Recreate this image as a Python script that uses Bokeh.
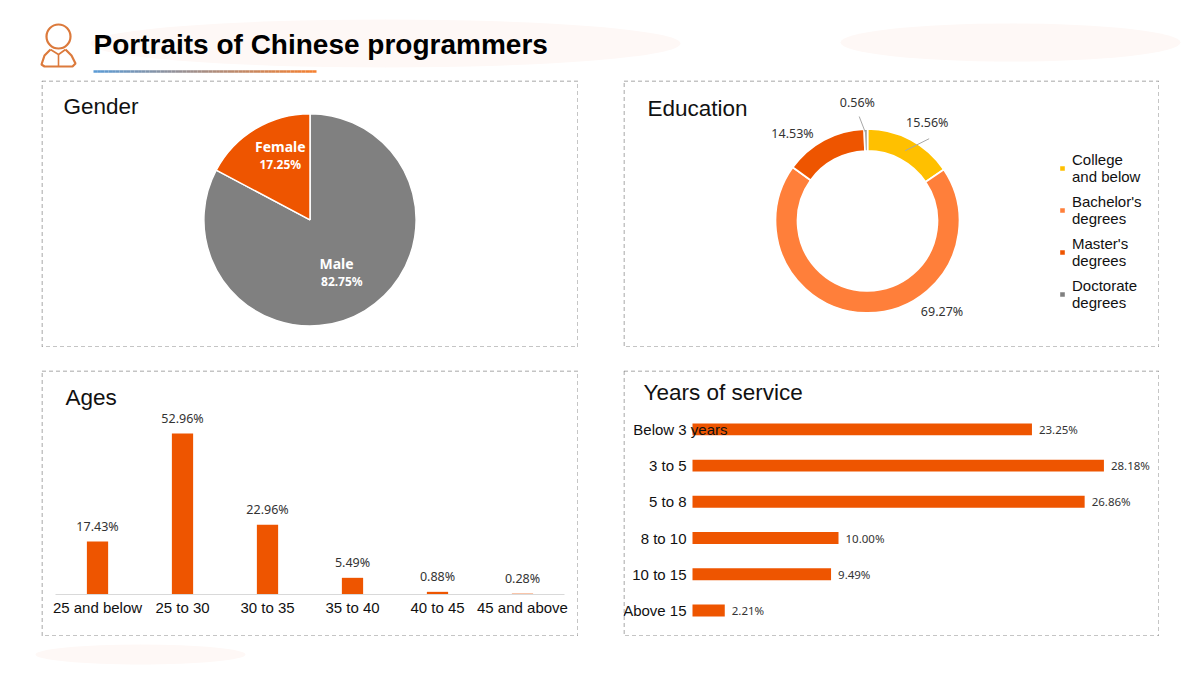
import numpy as np
from bokeh.core.properties import value
from bokeh.embed import file_html
from bokeh.layouts import column, row
from bokeh.models import (BoxAnnotation, CategoricalAxis, ColumnDataSource, FactorRange, FixedTicker, Label, Legend,
                          LegendItem, LinearAxis, Range1d, Spacer)
from bokeh.plotting import figure
from bokeh.resources import INLINE

# ---------- data ----------
gender_labels = ["Male", "Female"]
gender_values = [82.75, 17.25]
education_labels = ["College\nand below", "Bachelor's\ndegrees", "Master's\ndegrees", "Doctorate\ndegrees"]
education_values = [15.56, 69.27, 14.53, 0.56]
age_labels = ["25 and below", "25 to 30", "30 to 35", "35 to 40", "40 to 45", "45 and above"]
age_values = [17.43, 52.96, 22.96, 5.49, 0.88, 0.28]
service_labels = ["Below 3 years", "3 to 5", "5 to 8", "8 to 10", "10 to 15", "Above 15"]
service_values = [23.25, 28.18, 26.86, 10.00, 9.49, 2.21]

ORANGE = "#EE5500"
GREY = "#808080"
SANS = "Liberation Sans"
CJK = "Noto Sans"


def panel(w, h, xr, yr, title, tx, ty):
    p = figure(width=w, height=h, x_range=xr, y_range=yr, output_backend="svg", toolbar_location=None,
               min_border=0, outline_line_color=None, background_fill_color="white",
               x_axis_location=None, y_axis_location=None)
    p.grid.visible = False
    p.add_layout(BoxAnnotation(left=0.5, right=w - 0.5, top=0.5, bottom=h - 0.5,
                               left_units="canvas", right_units="canvas", top_units="canvas", bottom_units="canvas",
                               fill_alpha=0, line_color="#8a8a8a", line_alpha=1, line_dash="4 3", line_width=1,
                               level="overlay", editable=False))
    p.add_layout(Label(x=tx, y=ty, x_units="canvas", y_units="canvas", text=title, text_font=SANS,
                       text_font_size="22.5px", text_color="#111111", text_baseline="middle"))
    return p


def style_axis(a, standoff):
    a.axis_line_color = None
    a.major_tick_line_color = None
    a.minor_tick_line_color = None
    a.major_tick_out = 0
    a.major_tick_in = 0
    a.minor_tick_out = 0
    a.major_label_text_font = SANS
    a.major_label_text_font_size = "15px"
    a.major_label_text_color = "#111111"
    a.major_label_standoff = standoff


def arcs(vals):
    frac = np.cumsum([0] + list(vals)) / sum(vals)
    return np.pi / 2 - 2 * np.pi * frac[:-1], np.pi / 2 - 2 * np.pi * frac[1:]


# ---------- header ----------
head = figure(width=1200, height=80, x_range=Range1d(0, 1200), y_range=Range1d(80, 0), output_backend="svg",
              toolbar_location=None, min_border=0, outline_line_color=None, x_axis_location=None, y_axis_location=None)
head.grid.visible = False
head.ellipse(x=[385, 1010], y=[43, 42], width=[590, 340], height=[48, 38], fill_color="#FEF8F6", line_color=None)
head.circle(x=[58], y=[36], radius=12, fill_color="white", line_color="#DC7A3C", line_width=2.2)
head.line(x=[50, 44, 41, 44, 72, 75, 71, 65], y=[49, 55, 64, 66, 66, 63, 55, 49], line_color="#DC7A3C", line_width=2.2)
head.line(x=[50, 58, 65], y=[49, 54, 49], line_color="#DC7A3C", line_width=1.6)
head.line(x=[58, 58], y=[54, 66], line_color="#DC7A3C", line_width=1.6)
head.text(x=[93], y=[44], text=["Portraits of Chinese programmers"], text_font=value(SANS),
          text_font_style="bold", text_font_size="28px", text_color="black", text_baseline="middle")
n = 60
xs = np.linspace(93, 316, n + 1)
c0, c1 = np.array([91, 155, 213]), np.array([245, 128, 48])
cols = ["#%02x%02x%02x" % tuple(int(v) for v in c0 + (c1 - c0) * i / (n - 1)) for i in range(n)]
head.segment(x0=xs[:-1], x1=xs[1:], y0=[71] * n, y1=[71] * n, line_color=cols, line_width=2.5)

# ---------- gender ----------
p1 = panel(537, 267, Range1d(-2.53, 2.53), Range1d(-1.2, 1.31), "Gender", 22, 26)
s, e = arcs(gender_values)
p1.wedge(x=0, y=0, radius=1, start_angle=e, end_angle=s, fill_color=[GREY, ORANGE],
         line_color="white", line_width=1.5)
lx = [0.25, -0.28]
ly = [-0.41, 0.69]
p1.text(x=lx, y=ly, text=gender_labels, text_font=value(CJK), text_font_style="bold", text_font_size="14px",
        text_color="white", text_align="center", text_baseline="middle")
p1.text(x=[lx[0] + 0.05, lx[1]], y=[v - 0.165 for v in ly], text=[f"{v:.2f}%" for v in gender_values],
        text_font=value(CJK), text_font_style="bold", text_font_size="12px",
        text_color="white", text_align="center", text_baseline="middle")

# ---------- education ----------
p2 = panel(536, 267, Range1d(-2.652, 3.174), Range1d(-1.37, 1.52), "Education", 24, 28)
edu_colors = ["#FFC000", "#FF7F3A", ORANGE, GREY]
s, e = arcs(education_values)
edu_src = ColumnDataSource(dict(s=e, e=s, c=edu_colors))
edu_r = p2.annular_wedge(x=0, y=0, inner_radius=0.76, outer_radius=1, start_angle="s", end_angle="e",
                         fill_color="c", line_color="white", line_width=1.8, source=edu_src)
p2.segment(x0=[0.67, -0.09], y0=[0.89, 1.13], x1=[0.41, -0.02], y1=[0.76, 0.95], line_color="#a8a8a8", line_width=1)
p2.text(x=[0.65, 0.81, -0.815, -0.11], y=[1.065, -0.98, 0.945, 1.285], text=[f"{v:.2f}%" for v in education_values],
        text_font=value(CJK), text_font_size="12.5px", text_color="#333333", text_align="center", text_baseline="middle")
leg = Legend(items=[LegendItem(label=l, renderers=[edu_r], index=i) for i, l in enumerate(education_labels)],
             location=(435, 36), orientation="vertical", border_line_color=None, background_fill_alpha=0,
             label_text_font=SANS, label_text_font_size="15px", label_text_color="#111111", glyph_width=8, glyph_height=8,
             label_standoff=6, spacing=8, padding=0, margin=0)
p2.add_layout(leg, "center")

# ---------- ages ----------
p3 = panel(537, 266, FactorRange(*age_labels, range_padding=0.159, range_padding_units="absolute"),
           Range1d(-13.81, 73.68), "Ages", 24, 27)
p3.vbar(x=age_labels, top=age_values, width=0.25, fill_color=ORANGE, line_color=None)
p3.text(x=age_labels, y=age_values, text=[f"{v:.2f}%" for v in age_values], y_offset=-15, text_font=value(CJK),
        text_font_size="12.5px", text_color="#333333", text_align="center", text_baseline="middle")
ax = CategoricalAxis(fixed_location=0, bounds=(0, 6))
style_axis(ax, 4)
ax.axis_line_color = "#d9d9d9"
p3.add_layout(ax, "below")

# ---------- service ----------
idx = np.arange(len(service_labels))
p4 = panel(536, 266, Range1d(-69 / 14.6, 467 / 14.6), Range1d(5 + 26 / 36.3, -59 / 36.3), "Years of service", 20, 22)
p4.hbar(y=idx, right=service_values, height=0.33, fill_color=ORANGE, line_color=None)
p4.text(x=service_values, y=idx, text=[f"{v:.2f}%" for v in service_values], x_offset=7, text_font=value(CJK),
        text_font_size="11.5px", text_color="#333333", text_baseline="middle")
yax = LinearAxis(fixed_location=0, ticker=FixedTicker(ticks=list(idx)))
style_axis(yax, 6)
yax.major_label_overrides = {int(i): (l if i else " ") for i, l in zip(idx, service_labels)}
p4.add_layout(yax, "left")
p4.text(x=[0], y=[0], text=[service_labels[0]], x_offset=35, text_align="right", text_font=value(SANS),
        text_font_size="15px", text_color="#111111", text_baseline="middle")

# ---------- footer ----------
foot = figure(width=1200, height=30, x_range=Range1d(0, 1200), y_range=Range1d(667, 637), output_backend="svg",
              toolbar_location=None, min_border=0, outline_line_color=None, x_axis_location=None, y_axis_location=None)
foot.grid.visible = False
foot.ellipse(x=[140], y=[655], width=[210], height=[20], fill_color="#FEF8F6", line_color=None)

layout = column(head,
                row(Spacer(width=41), p1, Spacer(width=45), p2),
                Spacer(height=23),
                row(Spacer(width=41), p3, Spacer(width=45), p4),
                foot, spacing=0)
open("out.html", "w").write(file_html(layout, INLINE))
